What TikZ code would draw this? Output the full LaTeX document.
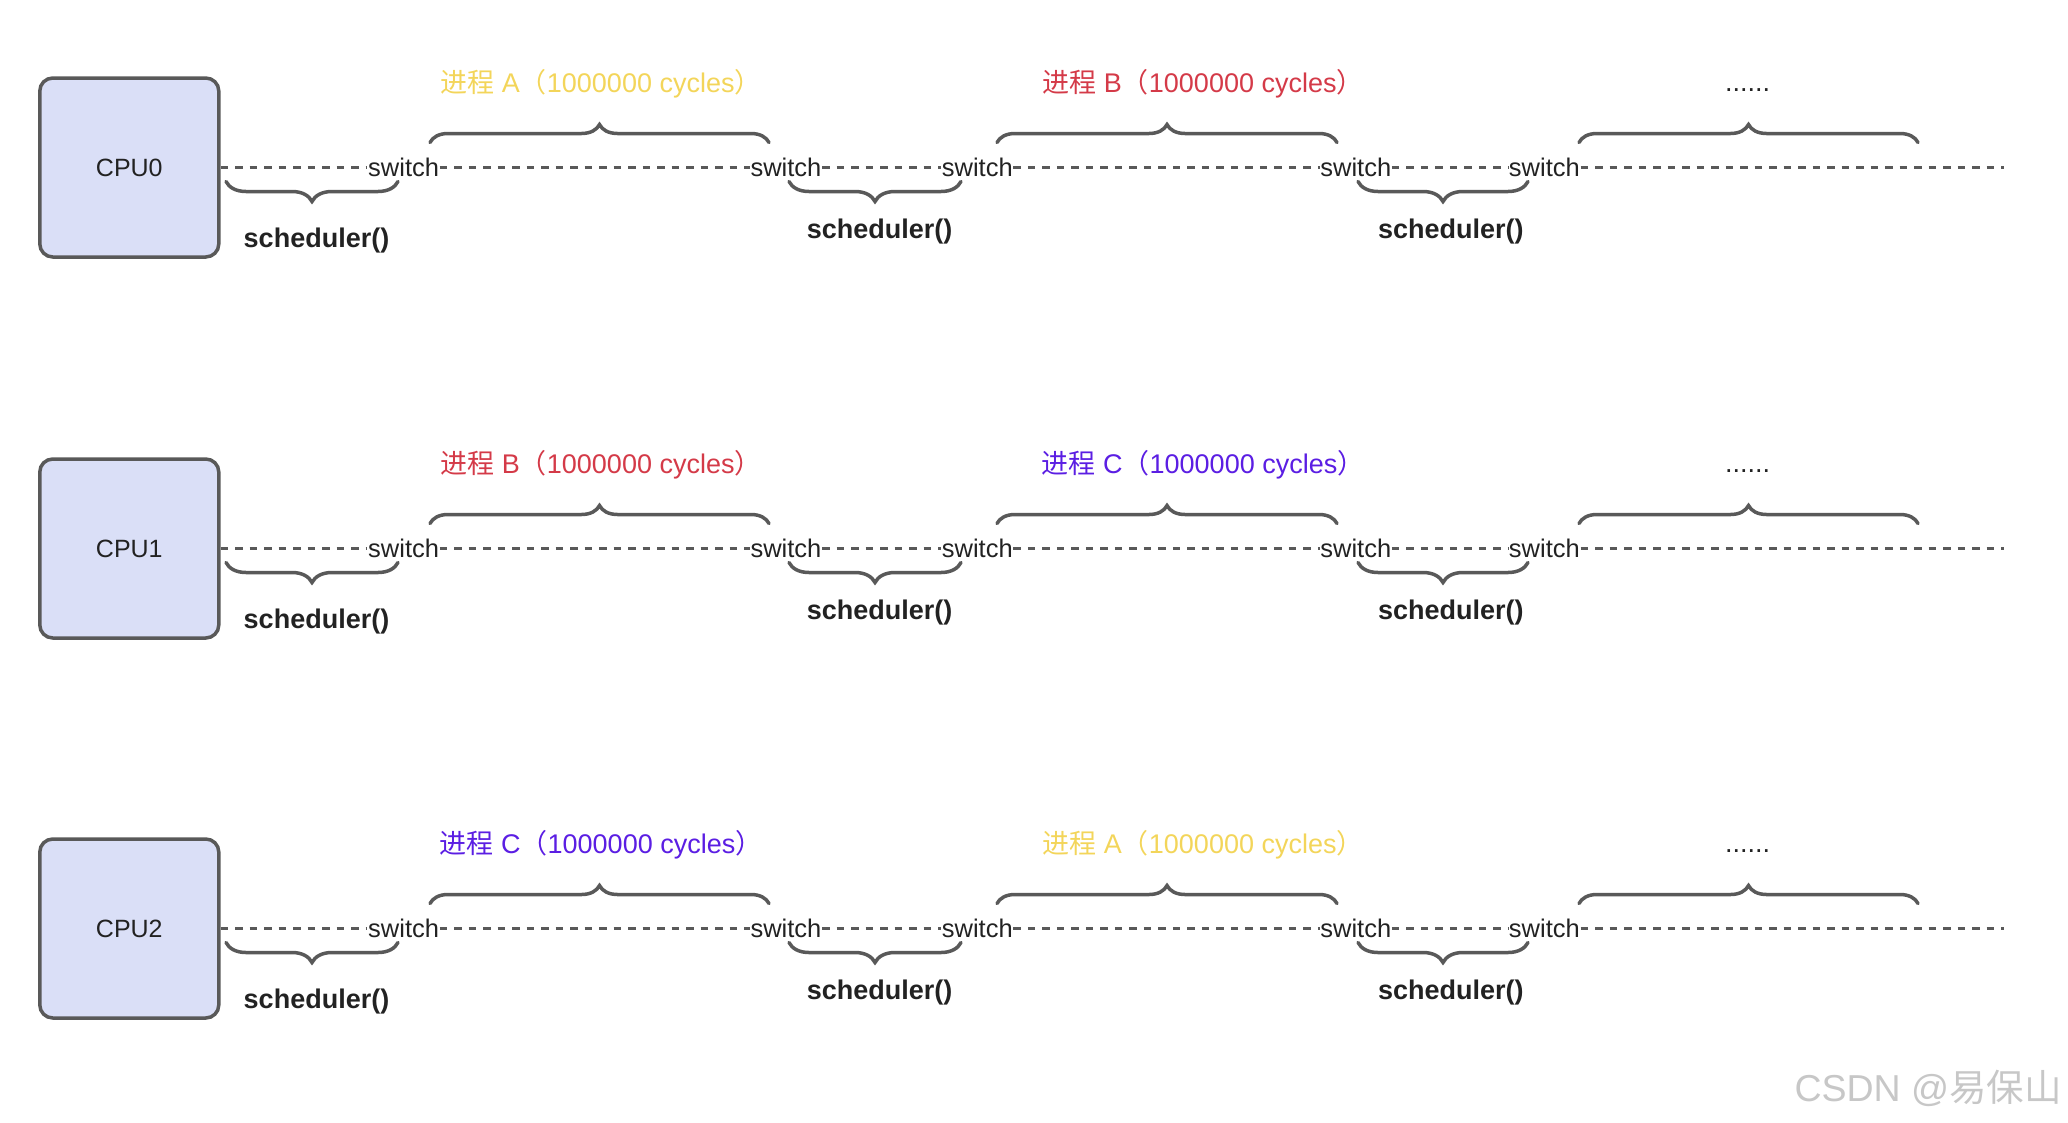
\documentclass[tikz,border=0pt]{standalone}
\usepackage{fontspec}
\setmainfont{Liberation Sans}
\newfontfamily\cjk{Noto Sans CJK SC}
\usetikzlibrary{decorations.pathreplacing}
\definecolor{lgray}{HTML}{595959}
\definecolor{boxfill}{HTML}{DADFF7}
\definecolor{txt}{HTML}{222222}
\definecolor{procA}{HTML}{F3D55A}
\definecolor{procB}{HTML}{D43A48}
\definecolor{procC}{HTML}{5B1EE3}
\newcommand{\proclabel}[1]{{\cjk 进程} #1{\cjk （}1000000 cycles{\cjk ）}}
\tikzset{
  cpubox/.style={draw=lgray, line width=3.5pt, rounded corners=13pt, fill=boxfill,
    minimum width=179pt, minimum height=179pt, inner sep=0pt,
    font=\fontsize{25}{30}\selectfont, text=txt},
  swlabel/.style={inner sep=0.5pt, font=\fontsize{25.5}{30}\selectfont, text=txt},
  dashline/.style={draw=lgray, line width=3.5pt, dash pattern=on 7.5pt off 7pt},
  schedlabel/.style={inner sep=0pt, font=\fontsize{27}{30}\selectfont\bfseries, text=txt},
  proclab/.style={inner sep=0pt, font=\fontsize{27}{30}\selectfont},
  bracetop/.style={draw=lgray, line width=3.5pt, line cap=round, decorate,
    decoration={brace, amplitude=18pt}},
  bracebot/.style={draw=lgray, line width=3.5pt, line cap=round, decorate,
    decoration={brace, amplitude=20pt, mirror}},
  wmark/.style={inner sep=0pt, text=black!22, font=\fontsize{37.5}{40}\selectfont}
}
\begin{document}
\begin{tikzpicture}[x=1pt, y=-1pt]
\useasboundingbox (0,0) rectangle (2068,1122);
\foreach \r/\y/\la/\ca/\lb/\cb in {0/167.5/A/procA/B/procB, 1/548.5/B/procB/C/procC, 2/928.5/C/procC/A/procA}{
  \node[cpubox] (cpu\r) at (129.3,\y) {CPU\r};
  \node[swlabel] (sa\r) at (403.6,\y) {switch};
  \node[swlabel] (sb\r) at (786,\y) {switch};
  \node[swlabel] (sc\r) at (977.3,\y) {switch};
  \node[swlabel] (sd\r) at (1355.8,\y) {switch};
  \node[swlabel] (se\r) at (1544.4,\y) {switch};
  \coordinate (end\r) at (2004,\y);
  \draw[dashline] (cpu\r.east) -- (sa\r.west);
  \draw[dashline] (sa\r.east) -- (sb\r.west);
  \draw[dashline] (sb\r.east) -- (sc\r.west);
  \draw[dashline] (sc\r.east) -- (sd\r.west);
  \draw[dashline] (sd\r.east) -- (se\r.west);
  \draw[dashline] (se\r.east) -- (end\r);
  % top braces
  \draw[bracetop] (430,\y-25) -- (769,\y-25);
  \draw[bracetop] (997,\y-25) -- (1337,\y-25);
  \draw[bracetop] (1579,\y-25) -- (1918,\y-25);
  % bottom braces
  \draw[bracebot] (226,\y+14) -- (398,\y+14);
  \draw[bracebot] (789,\y+14) -- (961,\y+14);
  \draw[bracebot] (1358,\y+14) -- (1528,\y+14);
  % labels
  \node[proclab, text=\ca] (pa\r) at (601,\y-84) {\proclabel{\la}};
  \node[proclab, text=\cb] (pb\r) at (1203,\y-84) {\proclabel{\lb}};
  \node[proclab, text=txt] (pc\r) at (1747.5,\y-77) {......};
  \node[schedlabel] (ka\r) at (316.5,\y+73) {scheduler()};
  \node[schedlabel] (kb\r) at (879.7,\y+64) {scheduler()};
  \node[schedlabel] (kc\r) at (1450.8,\y+64) {scheduler()};
}
\node[wmark, anchor=east] (wm) at (2062,1088) {CSDN @{\cjk 易保山}};
\end{tikzpicture}
\end{document}
